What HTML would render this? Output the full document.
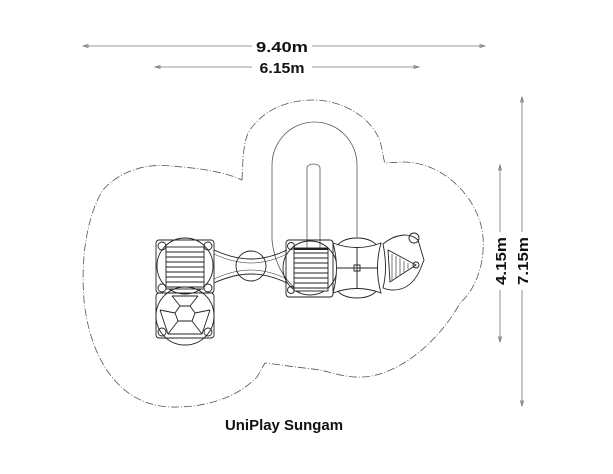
<!DOCTYPE html>
<html><head><style>html,body{margin:0;padding:0;background:#fff}svg{display:block}</style></head>
<body>
<svg width="613" height="474" viewBox="0 0 613 474" xmlns="http://www.w3.org/2000/svg" font-family="Liberation Sans, sans-serif">
<!-- dimensions -->
<g stroke="#777" stroke-width="0.8" fill="none">
<line x1="84" y1="46" x2="252" y2="46"/><line x1="312" y1="46" x2="484" y2="46"/>
<line x1="156" y1="67" x2="252" y2="67"/><line x1="312" y1="67" x2="418" y2="67"/>
<line x1="500" y1="166" x2="500" y2="232"/><line x1="500" y1="290" x2="500" y2="341"/>
<line x1="522" y1="98" x2="522" y2="232"/><line x1="522" y1="290" x2="522" y2="405"/>
<path d="M83 46 l5 -1.5 v3z M485 46 l-5 -1.5 v3z M155 67 l5 -1.5 v3z M419 67 l-5 -1.5 v3z M500 165 l-1.5 5 h3z M500 342 l-1.5 -5 h3z M522 97 l-1.5 5 h3z M522 406 l-1.5 -5 h3z"/>
</g>
<g font-weight="bold" font-size="15" fill="#111" text-anchor="middle">
<text x="282" y="52" textLength="52" lengthAdjust="spacingAndGlyphs">9.40m</text>
<text x="282" y="73" textLength="45" lengthAdjust="spacingAndGlyphs">6.15m</text>
<text transform="translate(506,261) rotate(-90)" textLength="48" lengthAdjust="spacingAndGlyphs">4.15m</text>
<text transform="translate(528,261) rotate(-90)" textLength="48" lengthAdjust="spacingAndGlyphs">7.15m</text>
<text x="284" y="430" textLength="118" lengthAdjust="spacingAndGlyphs">UniPlay Sungam</text>
</g>
<!-- safety zone -->
<path d="M242 180 C243 160 243 140 250 130 C265 108 290 100 313 100 C345 100 375 120 381 145 C383 152 383 158 385 163 L403 162 C445 162 480 200 483 237 C485 265 475 290 460 303 C440 340 400 375 363 377 C345 378 330 372 320 370 L265 363 C262 368 260 372 257 377 C235 400 200 408 170 407 C120 405 90 360 84 300 C80 250 90 210 103 190 C120 170 150 163 170 166 C200 168 225 172 242 180 Z" fill="none" stroke="#555" stroke-width="0.8" stroke-dasharray="8 2 1 2"/>
<!-- slide run -->
<g fill="none" stroke="#555" stroke-width="0.8">
<path d="M272 240 V165 A42.5 43 0 0 1 357 165 V237"/>
<path d="M307 252 V168 A6.5 4 0 0 1 320 168 V252"/>
<path d="M272 240 C275 270 290 285 300 292"/>
</g>
<g fill="none" stroke="#222" stroke-width="0.9">
<!-- left tower -->
<rect x="156" y="240" width="58" height="53" rx="3"/>
<circle cx="185" cy="266" r="28"/>
<circle cx="162" cy="246" r="4"/><circle cx="208" cy="246" r="4"/><circle cx="162" cy="288" r="4"/><circle cx="208" cy="288" r="4"/>
<rect x="166" y="247" width="38" height="42" fill="#fff"/>
<path d="M166 252H204M166 257H204M166 262H204M166 267H204M166 272H204M166 277H204M166 282H204M166 287H204"/>
<!-- lower tower -->
<rect x="156" y="293" width="58" height="45" rx="3"/>
<circle cx="185" cy="316" r="29"/>
<circle cx="162" cy="332" r="4"/><circle cx="208" cy="332" r="4"/>
<polygon points="180,306 190,306 195,313 192,321 178,321 175,313"/>
<path d="M180 306 L172 296 M190 306 L198 296 M195 313 L210 310 M192 321 L202 334 M178 321 L168 334 M175 313 L160 310 M172 296 L198 296 M160 310 L168 334 M210 310 L202 334 M168 334 L202 334"/>
<!-- bridge -->
<path d="M214 250 C240 262 262 262 287 250 M214 283 C240 271 262 271 287 283"/>
<path d="M214 254 C240 266 262 266 287 254 M214 279 C240 267 262 267 287 279" stroke-width="0.5"/>
<circle cx="251" cy="266" r="15"/>
<!-- middle tower -->
<rect x="286" y="240" width="47" height="57" rx="3"/>
<circle cx="310" cy="268" r="27"/>
<circle cx="291" cy="246" r="3.5"/><circle cx="291" cy="290" r="3.5"/>
<rect x="294" y="248" width="34" height="43" fill="#fff"/>
<path d="M294 253H328M294 258H328M294 263H328M294 268H328M294 273H328M294 278H328M294 283H328M294 288H328"/>
<line x1="294" y1="249" x2="328" y2="249" stroke-width="2"/>
<!-- square platform -->
<ellipse cx="357" cy="248" rx="20" ry="10"/>
<ellipse cx="357" cy="288" rx="20" ry="10"/>
<path d="M333 243 Q357 252 381 243 Q374 268 381 293 Q357 284 333 293 Q340 268 333 243 Z" fill="#fff"/>
<path d="M337 268H378M357 248V289M354 265h6v6h-6z"/>
<!-- slide top -->
<path d="M383 244 C395 234 410 232 418 240 L424 260 L420 270 C410 292 393 292 383 288 Q388 268 383 244Z"/>
<circle cx="414" cy="238" r="5"/>
<path d="M388 250 L416 265 L390 282 Z"/>
<path d="M392 254V280M396 256V278M400 258V275M404 261V272M408 263V269" stroke-width="0.6"/>
<circle cx="416" cy="265" r="3"/>
</g>
</svg>
</body></html>
